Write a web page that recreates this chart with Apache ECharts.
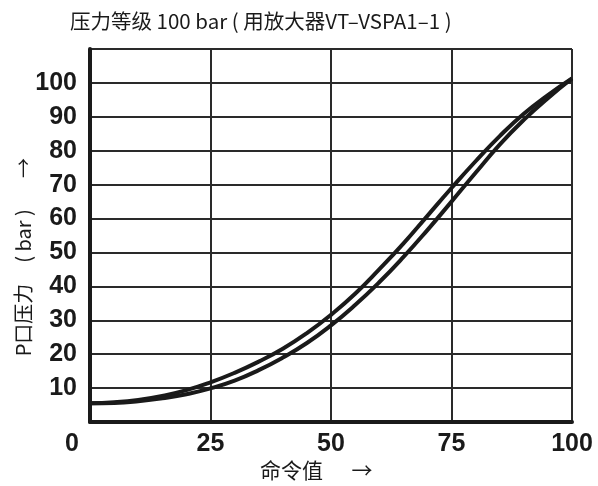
<!DOCTYPE html>
<html>
<head>
<meta charset="utf-8">
<script src="https://cdn.jsdelivr.net/npm/echarts@6/dist/echarts.min.js"></script>
<style>
  html, body { margin: 0; padding: 0; background: #fff; }
  #chart { width: 598px; height: 486px; }
</style>
</head>
<body>
<div id="chart"></div>
<script>
// Command value (%) sampled every 5 units
const commandValues = [0, 5, 10, 15, 20, 25, 30, 35, 40, 45, 50, 55, 60, 65, 70, 75, 80, 85, 90, 95, 100];
// Port P pressure (bar), rising command
const pressureUp = [5.5, 5.8, 6.5, 7.7, 9.4, 11.7, 14.5, 17.8, 21.6, 26.2, 31.6, 37.8, 45.0, 52.6, 60.8, 69.0, 76.9, 84.3, 90.9, 96.4, 101.3];
// Port P pressure (bar), falling command
const pressureDown = [5.5, 5.6, 6.1, 7.0, 8.2, 9.9, 12.2, 15.3, 19.0, 23.3, 28.5, 34.5, 41.2, 48.6, 56.6, 65.0, 73.5, 81.8, 89.1, 95.5, 101.3];
// Tick labels
const xTicks = [0, 25, 50, 75, 100];
const yTicks = [10, 20, 30, 40, 50, 60, 70, 80, 90, 100];

const toPairs = (ys) => commandValues.map((x, i) => [x, ys[i]]);

const ink = '#1a1a1a';
const tickFont = {
  fontFamily: '"Liberation Sans Narrow", "Liberation Sans", Arial, sans-serif',
  fontWeight: 'bold',
  fontSize: 25,
  color: ink
};
const cjkFont = '"Noto Sans CJK SC", "Noto Sans", sans-serif';

const chart = echarts.init(document.getElementById('chart'), null, { renderer: 'canvas' });
chart.setOption({
  animation: false,
  backgroundColor: '#fff',
  grid: { left: 90, right: 26, top: 49, bottom: 64, containLabel: false },
  xAxis: {
    type: 'value',
    min: 0, max: 100, interval: 25,
    axisLine: { show: true, onZero: false, lineStyle: { color: ink, width: 4 } },
    axisTick: { show: false },
    splitLine: { show: true, lineStyle: { color: '#2a2a2a', width: 2 } },
    axisLabel: {
      margin: 10,
      formatter: (v) => xTicks.includes(v) ? (v === 0 ? '{z|0}' : String(v)) : '',
      ...tickFont,
      rich: { z: { ...tickFont, padding: [0, 36, 0, 0] } }
    }
  },
  yAxis: {
    type: 'value',
    min: 0, max: 110, interval: 10,
    axisLine: { show: true, onZero: false, lineStyle: { color: ink, width: 4 } },
    axisTick: { show: false },
    splitLine: { show: true, lineStyle: { color: '#2a2a2a', width: 2 } },
    axisLabel: {
      margin: 13,
      formatter: (v) => yTicks.includes(v) ? String(v) : '',
      ...tickFont
    }
  },
  graphic: [
    {
      type: 'text', left: 70, top: 11,
      style: { text: '压力等级 100 bar ( 用放大器VT–VSPA1–1 )', font: '20.5px ' + cjkFont, fill: ink }
    },
    {
      type: 'text', x: 260, y: 470,
      style: { text: '命令值', font: '21px ' + cjkFont, fill: ink, align: 'left', verticalAlign: 'middle' }
    },
    {
      type: 'text', x: 362, y: 470,
      style: { text: '→', font: '21px ' + cjkFont, fill: ink, align: 'center', verticalAlign: 'middle' }
    },
    {
      type: 'text', x: 23, y: 320, rotation: Math.PI / 2,
      style: { text: 'P口压力', font: '20px ' + cjkFont, fill: ink, align: 'center', verticalAlign: 'middle' }
    },
    {
      type: 'text', x: 23, y: 236, rotation: Math.PI / 2,
      style: { text: '( bar )', font: '20px ' + cjkFont, fill: ink, align: 'center', verticalAlign: 'middle' }
    },
    {
      type: 'text', x: 23, y: 168, rotation: Math.PI / 2,
      style: { text: '→', font: '20px ' + cjkFont, fill: ink, align: 'center', verticalAlign: 'middle' }
    }
  ],
  series: [
    {
      type: 'line', data: toPairs(pressureUp), smooth: 0.5, symbol: 'none',
      lineStyle: { color: ink, width: 4 }
    },
    {
      type: 'line', data: toPairs(pressureDown), smooth: 0.5, symbol: 'none',
      lineStyle: { color: ink, width: 4 }
    }
  ]
});
</script>
</body>
</html>
